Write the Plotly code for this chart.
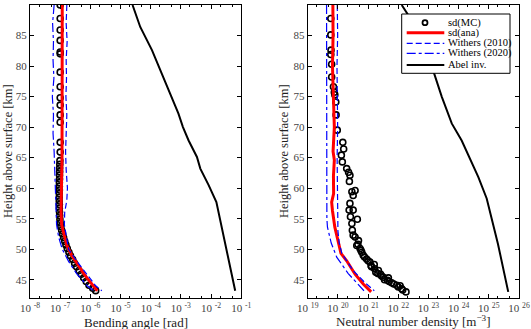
import plotly.graph_objects as go
from plotly.subplots import make_subplots

# ---- left panel: bending angle [rad] ----
h_mc_l = [90, 87.8, 85.9, 84.2, 82.3, 82.0, 79.0, 76.6, 74.8, 73.6, 72.0, 70.8, 67.5, 65.9,
          64.5, 63.9, 63.3, 62.7, 62.1, 61.5, 60.9, 60.3, 59.7, 59.1, 58.5, 57.9, 57.3, 56.7,
          56.1, 55.5, 54.9, 54.3, 53.7, 53.1, 52.5, 51.9, 51.3, 50.7, 50.1, 49.5, 48.9, 48.3,
          47.7, 47.1, 46.5, 45.9, 45.3, 44.7, 44.1, 43.6, 43.2]
ba_mc = [1.0e-7, 1.0e-7, 1.0e-7, 1.0e-7, 1.0e-7, 1.0e-7, 1.0e-7, 1.0e-7, 1.0e-7, 1.0e-7, 1.0e-7, 1.0e-7, 1.0e-7, 1.0e-7,
         9.8e-8, 9.7e-8, 9.6e-8, 9.6e-8, 9.5e-8, 9.5e-8, 9.4e-8, 9.4e-8, 9.4e-8, 9.3e-8, 9.3e-8, 9.3e-8, 9.4e-8, 9.4e-8,
         9.5e-8, 9.6e-8, 9.8e-8, 1.0e-7, 1.05e-7, 1.12e-7, 1.2e-7, 1.3e-7, 1.42e-7, 1.55e-7, 1.72e-7, 1.95e-7, 2.2e-7, 2.6e-7,
         3.0e-7, 3.5e-7, 4.2e-7, 5.0e-7, 6.0e-7, 7.3e-7, 9.0e-7, 1.2e-6, 1.5e-6]

h_ana_l = [90, 80, 70, 65, 60, 56, 54, 52.3, 50.6, 49, 47.4, 45.7, 44.1, 43.2]
ba_ana = [1.17e-7, 1.17e-7, 1.17e-7, 1.15e-7, 1.10e-7, 1.07e-7, 1.12e-7, 1.35e-7, 1.66e-7, 2.4e-7, 4.0e-7, 6.6e-7, 1.2e-6, 1.7e-6]

h_w10_l = [90, 87, 84, 81, 78, 75, 72, 69, 66, 63, 60, 58, 56, 54, 52, 50, 48, 46, 44, 43.2]
ba_w10 = [1.66e-7, 1.58e-7, 1.70e-7, 1.58e-7, 1.62e-7, 1.55e-7, 1.66e-7, 1.58e-7, 1.51e-7, 1.58e-7, 1.74e-7, 1.66e-7, 1.41e-7, 1.38e-7,
          1.58e-7, 1.9e-7, 3.6e-7, 7.2e-7, 1.5e-6, 2.4e-6]

h_w20_l = [90, 87, 84, 81, 78, 75, 72, 69, 66, 63, 60, 57, 54, 52, 50, 48, 46, 44, 43.2]
ba_w20 = [6.3e-8, 5.6e-8, 6.0e-8, 5.8e-8, 6.2e-8, 5.5e-8, 6.0e-8, 5.8e-8, 6.3e-8, 6.6e-8, 7.1e-8, 7.4e-8, 7.6e-8, 8.9e-8,
          1.17e-7, 1.9e-7, 3.5e-7, 7.9e-7, 1.26e-6]

h_abel_l = [90, 88.5, 86.4, 82.6, 78.8, 75, 72.2, 70, 67.8, 65.1, 63.2, 60.5, 58.3, 57.7, 43.2]
ba_abel = [2.5e-5, 3.2e-5, 4.5e-5, 1.1e-4, 2.3e-4, 5.0e-4, 8.3e-4, 1.17e-3, 1.8e-3, 3.4e-3, 4.4e-3, 8.3e-3, 1.3e-2, 1.5e-2, 6.3e-2]

# ---- right panel: neutral number density [m^-3] ----
h_mc_r = [87.8, 85.1, 82.6, 81.9, 80.3, 78.2, 76.6, 75.7, 75.3, 74.1, 72.0, 69.5, 67.5, 66.4, 65.4, 64.3, 63.2, 62.6,
          62.1, 61.1, 59.6, 59.4, 58.8, 57.5, 56.4, 56.4, 55.3, 54.9, 54.2, 53.1, 52.3, 52.0, 51.4, 50.8, 50.6, 50.1,
          49.8, 49.5, 49.0, 48.7, 48.4, 48.1, 47.9, 47.5, 47.3, 47.1, 46.8, 46.5, 46.2, 46.0, 45.9, 45.6, 45.4, 45.3,
          45.0, 44.9, 44.7, 44.5, 44.3, 44.1, 44.0, 43.8, 43.5, 43.3, 43.0]
nd_mc = [5.8e19, 5.8e19, 5.9e19, 5.8e19, 6.2e19, 6.2e19, 7.1e19, 7.6e19, 7.9e19, 8.5e19, 8.7e19, 9.5e19, 1.45e20, 1.55e20,
         1.3e20, 1.4e20, 1.95e20, 2.25e20, 2.5e20, 2.4e20, 3.7e20, 2.9e20, 3.2e20, 2.5e20, 2.35e20, 3.2e20, 2.6e20,
         4.4e20, 2.9e20, 3.0e20, 3.2e20, 3.7e20, 4.8e20, 4.6e20, 4.2e20, 5.4e20, 5.8e20, 6.2e20, 6.9e20, 7.6e20,
         8.9e20, 1.0e21, 1.15e21, 1.6e21, 1.25e21, 1.3e21, 1.65e21, 2.2e21, 1.8e21, 2.1e21, 2.6e21, 2.8e21, 3.2e21,
         4.7e21, 3.5e21, 4.4e21, 5.0e21, 6.0e21, 7.1e21, 8.9e21, 1.15e22, 1.0e22, 1.3e22, 1.4e22, 1.8e22]

h_ana_r = [90, 85, 80, 75, 70, 66, 64.6, 62, 59.1, 57.7, 56.3, 53.6, 50.8, 49.3, 48.1, 45.9, 44.3, 43.0]
nd_ana = [6.8e19, 6.9e19, 6.6e19, 7.2e19, 7.6e19, 6.9e19, 7.6e19, 7.1e19, 7.2e19, 6.2e19, 6.6e19, 7.9e19,
          1.05e20, 1.26e20, 1.95e20, 3.7e20, 6.9e20, 1.26e21]

h_w10_r = [90, 85, 80, 75, 70, 65, 60, 56, 53, 51, 49.3, 46.5, 44.5, 43.2]
nd_w10 = [9.5e19, 9.8e19, 9.3e19, 9.6e19, 9.8e19, 9.4e19, 9.6e19, 9.8e19, 1.0e20, 1.1e20, 1.35e20, 3.2e20, 7.9e20, 1.6e21]

h_w20_r = [90, 85, 80, 75, 70, 65, 60, 55, 53.6, 51, 48.7, 46, 43]
nd_w20 = [4.2e19, 4.2e19, 4.2e19, 4.2e19, 4.2e19, 4.2e19, 4.2e19, 4.3e19, 4.5e19, 6.0e19, 9.1e19, 2.2e20, 7.9e20]

h_abel_r = [90, 87.5, 84.3, 79.9, 75, 70.6, 67.8, 65.1, 61.8, 58.3, 55.3, 50.9, 43]
nd_abel = [1.3e22, 2.75e22, 6.0e22, 1.3e23, 2.75e23, 5.9e23, 1.26e24, 2.2e24, 4.5e24, 8.5e24, 1.23e25, 2.0e25, 4.4e25]

names = ["sd(MC)", "sd(ana)", "Withers (2010)", "Withers (2020)", "Abel inv."]
FONT = "Liberation Serif"
W, H = 531, 329
ML, MR, MT, MB = 30, 12, 5, 31
PW, PH = W - ML - MR, H - MT - MB


def px(x):  # pixel -> paper x
    return (x - ML) / PW


def py(y):  # pixel -> paper y
    return 1 - (y - MT) / PH


fig = make_subplots(rows=1, cols=2, horizontal_spacing=0.136)

styles = [
    dict(mode="markers", marker=dict(symbol="circle-open", size=6, color="black", line=dict(width=1.6))),
    dict(mode="lines", line=dict(color="red", width=3)),
    dict(mode="lines", line=dict(color="blue", width=1.2, dash="6px,3px")),
    dict(mode="lines", line=dict(color="blue", width=1.2, dash="dashdot")),
    dict(mode="lines", line=dict(color="black", width=2)),
]

panels = [
    [(h_mc_l, ba_mc), (h_ana_l, ba_ana), (h_w10_l, ba_w10), (h_w20_l, ba_w20), (h_abel_l, ba_abel)],
    [(h_mc_r, nd_mc), (h_ana_r, nd_ana), (h_w10_r, nd_w10), (h_w20_r, nd_w20), (h_abel_r, nd_abel)],
]
for col, series in enumerate(panels, start=1):
    for name, (h, v), st in zip(names, series, styles):
        fig.add_trace(go.Scatter(x=v, y=h, name=name, showlegend=False, **st), 1, col)

axis_style = dict(showline=True, linecolor="black", linewidth=1, mirror="allticks", ticks="inside",
                  ticklen=4, tickcolor="black", showgrid=False, zeroline=False, automargin=False,
                  tickfont=dict(family=FONT, size=11, color="#444"))
minor = dict(ticks="inside", ticklen=2, tickcolor="black", showgrid=False)

exp_l = list(range(-8, 0))
exp_r = list(range(19, 27))
fig.update_xaxes(type="log", range=[-8, -1], tickvals=[10.0 ** e for e in exp_l],
                 ticktext=[f"10 <sup>{e}</sup>" for e in exp_l], minor=minor,
                 row=1, col=1, **axis_style)
fig.update_xaxes(type="log", range=[19, 26], tickvals=[10.0 ** e for e in exp_r],
                 ticktext=[f"10 <sup>{e}</sup>" for e in exp_r], minor=minor,
                 row=1, col=2, **axis_style)
fig.update_yaxes(range=[42, 90], tickvals=list(range(45, 91, 5)), **axis_style)

# axis titles
tfont = dict(family=FONT, size=13, color="#222")
fig.add_annotation(text="Bending angle [rad]", x=px(135.5), y=py(322), xref="paper", yref="paper",
                   showarrow=False, font=tfont, xanchor="center", yanchor="middle")
fig.add_annotation(text="Neutral number density [m<sup>−3</sup>]", x=px(413), y=py(321), xref="paper", yref="paper",
                   showarrow=False, font=tfont, xanchor="center", yanchor="middle")
for xc in (8, 284):
    fig.add_annotation(text="Height above surface [km]", x=px(xc), y=py(151), xref="paper", yref="paper",
                       showarrow=False, textangle=-90, font=dict(family=FONT, size=12.5, color="#222"),
                       xanchor="center", yanchor="middle")

# legend box (drawn by hand to match the compact MATLAB legend)
fig.add_shape(type="rect", x0=px(401.7), x1=px(510), y0=py(14), y1=py(73.3), xref="paper", yref="paper",
              line=dict(color="black", width=1), fillcolor="white", layer="above")
leg_y = [22.7, 32.7, 43.3, 53.3, 65]
for name, st, yy in zip(names, styles, leg_y):
    if st["mode"] == "markers":
        fig.add_shape(type="circle", x0=px(422.5), x1=px(427.5), y0=py(yy - 2.5), y1=py(yy + 2.5),
                      xref="paper", yref="paper", line=dict(color="black", width=1.8), layer="above")
    else:
        ln = st["line"]
        fig.add_shape(type="line", x0=px(406.7), x1=px(444.3), y0=py(yy), y1=py(yy), xref="paper", yref="paper",
                      line=dict(color=ln["color"], width=ln["width"], dash=ln.get("dash", "solid")), layer="above")
    fig.add_annotation(text=name, x=px(446.5), y=py(yy), xref="paper", yref="paper", showarrow=False,
                       xanchor="left", yanchor="middle", borderpad=0,
                       font=dict(family=FONT, size=10.5, color="black"))

fig.update_layout(
    width=W, height=H,
    margin=dict(l=ML, r=MR, t=MT, b=MB),
    plot_bgcolor="white", paper_bgcolor="white",
    font=dict(family=FONT, size=11, color="#222"),
    showlegend=False,
)

# drop the browser's default body margin so the figure sits at the page origin
fig.write_html("out.html", config={"displayModeBar": False},
               post_script="document.body.style.margin='0';")
